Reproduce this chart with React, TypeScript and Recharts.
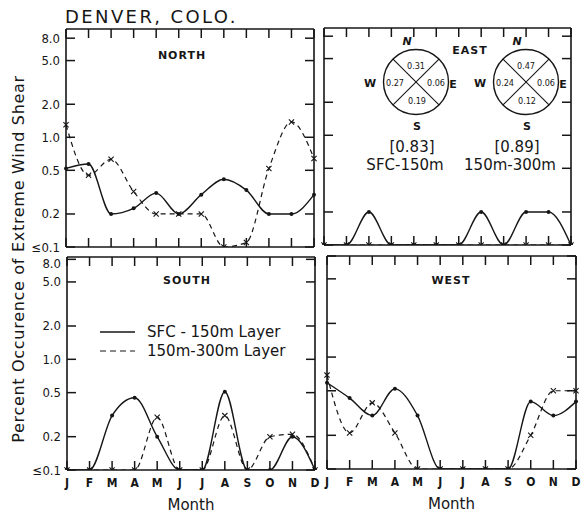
import React from "react";
import { LineChart, Line, XAxis, YAxis } from "recharts";

const INK = "#161616";
const SANS = "'DejaVu Sans', sans-serif";
const COND = "'DejaVu Sans Condensed', 'DejaVu Sans', sans-serif";

const MONTHS = ["J", "F", "M", "A", "M", "J", "J", "A", "S", "O", "N", "D"];
const Y_TICKS = [0.1, 0.2, 0.5, 1, 2, 5, 8];

// percent occurrence per month (0.1 means "<= 0.1")
const NORTH_SFC = [0.52, 0.57, 0.2, 0.225, 0.31, 0.2, 0.3, 0.415, 0.33, 0.2, 0.2, 0.3];
const NORTH_UPPER = [1.3, 0.45, 0.63, 0.32, 0.2, 0.2, 0.2, 0.1, 0.11, 0.52, 1.38, 0.64];
const EAST_SFC = [0.1, 0.1, 0.2, 0.1, 0.1, 0.1, 0.1, 0.2, 0.1, 0.2, 0.2, 0.1];
const EAST_UPPER = [0.1, 0.1, 0.1, 0.1, 0.1, 0.1, 0.1, 0.1, 0.1, 0.1, 0.1, 0.1];
const SOUTH_SFC = [0.1, 0.1, 0.31, 0.45, 0.2, 0.1, 0.1, 0.51, 0.1, 0.1, 0.2, 0.1];
const SOUTH_UPPER = [0.1, 0.1, 0.1, 0.1, 0.3, 0.1, 0.1, 0.31, 0.1, 0.2, 0.21, 0.1];
const WEST_SFC = [0.59, 0.43, 0.3, 0.52, 0.3, 0.1, 0.1, 0.1, 0.1, 0.4, 0.3, 0.4];
const WEST_UPPER = [0.69, 0.21, 0.39, 0.21, 0.1, 0.1, 0.1, 0.1, 0.1, 0.2, 0.5, 0.5];

// annual totals by direction for the wind roses in the EAST panel: N, W, E, S
const ROSE_SFC = ["0.31", "0.27", "0.06", "0.19"];
const ROSE_UPPER = ["0.47", "0.24", "0.06", "0.12"];
const ROSE_TOTALS = ["[0.83]", "[0.89]"];
const ROSE_LAYERS = ["SFC-150m", "150m-300m"];

interface PanelDef {
  name: string;
  sfc: number[];
  upper: number[];
  x: number; y: number; w: number; h: number;
  top: number;
  left: boolean;
  bottom: boolean;
  tx: number; ty: number;
}

const PANELS: PanelDef[] = [
  { name: "NORTH", sfc: NORTH_SFC, upper: NORTH_UPPER, x: 66, y: 29, w: 248, h: 218, top: 9.7, left: true, bottom: false, tx: 182, ty: 55 },
  { name: "EAST", sfc: EAST_SFC, upper: EAST_UPPER, x: 324, y: 28, w: 247, h: 217, top: 9.5, left: false, bottom: false, tx: 470, ty: 50 },
  { name: "SOUTH", sfc: SOUTH_SFC, upper: SOUTH_UPPER, x: 67, y: 257, w: 248, h: 213, top: 8.4, left: true, bottom: true, tx: 187, ty: 280 },
  { name: "WEST", sfc: WEST_SFC, upper: WEST_UPPER, x: 327, y: 256, w: 249, h: 213, top: 8.0, left: false, bottom: true, tx: 451, ty: 280 },
];

const TICK_LEN = 9;
const TICK_W = 1.5;
const fmtY = (v: number) => (v === 0.1 ? "\u22640.1" : v.toFixed(1));
const blank = () => "";

const Dot = (props: any) => {
  const { cx, cy, index } = props;
  if (cx == null || cy == null) return <g key={index} />;
  return <circle key={index} cx={cx} cy={cy} r={2} fill={INK} stroke="none" />;
};

const Cross = (props: any) => {
  const { cx, cy, index } = props;
  if (cx == null || cy == null) return <g key={index} />;
  const s = 2.6;
  return (
    <path key={index} d={`M${cx - s},${cy - s}L${cx + s},${cy + s}M${cx - s},${cy + s}L${cx + s},${cy - s}`}
      stroke={INK} strokeWidth={1.1} fill="none" strokeDasharray="none" />
  );
};

function Panel({ p }: { p: PanelDef }) {
  const L = p.left ? 50 : 10;
  const B = p.bottom ? 44 : 10;
  const R = 10;
  const T = 10;
  const data = MONTHS.map((m, i) => ({ m, sfc: p.sfc[i], upper: p.upper[i] }));
  const frame = { stroke: INK, strokeWidth: 1.6 };
  const tickLine = { stroke: INK, strokeWidth: TICK_W };
  const yDomain: [number, number] = [0.1, p.top];

  // y ticks point into the frame; labels only on the left-hand panels
  const leftTick = (tp: any) => {
    const v = tp.payload.value;
    const dy = p.bottom && v === 8 ? 4 : 0;
    return (
      <g>
        <line x1={L} x2={L + TICK_LEN} y1={tp.y} y2={tp.y} stroke={INK} strokeWidth={TICK_W} />
        {p.left && (
          <text x={L - 6} y={tp.y + dy} textAnchor="end" dominantBaseline="central" fill={INK}
            fontSize={13} fontFamily={COND}>{fmtY(v)}</text>
        )}
      </g>
    );
  };

  return (
    <div style={{ position: "absolute", left: p.x - L, top: p.y - T }}>
      <LineChart width={L + p.w + R} height={T + p.h + B} data={data}
        margin={{ top: T, right: R, left: 0, bottom: p.bottom ? 0 : B }}>
        <XAxis xAxisId="b" dataKey="m" mirror height={10} interval={0} tickSize={TICK_LEN}
          axisLine={frame} tickLine={tickLine} tickFormatter={blank} />
        <XAxis xAxisId="t" dataKey="m" orientation="top" mirror height={10} interval={0} tickSize={TICK_LEN}
          axisLine={frame} tickLine={tickLine} tickFormatter={blank} />
        {p.bottom && (
          <XAxis xAxisId="bl" dataKey="m" height={B} interval={0} tickLine={false} axisLine={false} tickMargin={2}
            tick={{ fill: INK, fontSize: 12, fontFamily: COND, fontWeight: "bold" }}
            label={{ value: "Month", position: "insideBottom", offset: 4, fill: INK, fontSize: 15, fontFamily: SANS }} />
        )}
        <YAxis yAxisId="l" scale="log" domain={yDomain} allowDataOverflow ticks={Y_TICKS} interval={0}
          width={L} tickSize={0} tickMargin={0} tickLine={false} axisLine={frame} tick={leftTick} />
        <YAxis yAxisId="r" orientation="right" mirror scale="log" domain={yDomain} allowDataOverflow ticks={Y_TICKS} interval={0}
          width={10} tickSize={TICK_LEN} axisLine={frame} tickLine={tickLine} tickFormatter={blank} />
        <Line xAxisId="b" yAxisId="l" type="monotone" dataKey="sfc" stroke={INK} strokeWidth={1.4}
          dot={Dot} activeDot={false} isAnimationActive={false} />
        <Line xAxisId="b" yAxisId="l" type="monotone" dataKey="upper" stroke={INK} strokeWidth={1.2}
          strokeDasharray="5 4" dot={Cross} activeDot={false} isAnimationActive={false} />
      </LineChart>
    </div>
  );
}

function Rose({ cx, cy, vals }: { cx: number; cy: number; vals: string[] }) {
  const r = 32.5;
  const d = r * Math.SQRT1_2;
  const num = { fontFamily: COND, fontSize: 9, fill: INK, textAnchor: "middle" as const, dominantBaseline: "central" as const };
  const dir = { fontFamily: SANS, fontSize: 11, fontWeight: "bold" as const, fill: INK, textAnchor: "middle" as const, dominantBaseline: "central" as const };
  return (
    <g>
      <circle cx={cx} cy={cy} r={r} fill="none" stroke={INK} strokeWidth={1.4} />
      <line x1={cx - d} y1={cy - d} x2={cx + d} y2={cy + d} stroke={INK} strokeWidth={1.1} />
      <line x1={cx - d} y1={cy + d} x2={cx + d} y2={cy - d} stroke={INK} strokeWidth={1.1} />
      <text x={cx} y={cy - 16} {...num}>{vals[0]}</text>
      <text x={cx - 21} y={cy + 1} {...num}>{vals[1]}</text>
      <text x={cx + 20} y={cy + 1} {...num}>{vals[2]}</text>
      <text x={cx + 1} y={cy + 19} {...num}>{vals[3]}</text>
      <text x={cx - 9} y={cy - 41} {...dir} fontStyle="italic">N</text>
      <text x={cx + 1} y={cy + 44} {...dir}>S</text>
      <text x={cx - 46} y={cy + 1} {...dir}>W</text>
      <text x={cx + 37} y={cy + 2} {...dir}>E</text>
    </g>
  );
}

function Overlay() {
  const big = { fontFamily: SANS, fontSize: 15, fill: INK, textAnchor: "middle" as const, dominantBaseline: "central" as const };
  return (
    <svg width={582} height={517} style={{ position: "absolute", left: 0, top: 0, pointerEvents: "none" }}>
      {PANELS.map((p) => (
        <text key={p.name} x={p.tx} y={p.ty} fontFamily={SANS} fontSize={11} fontWeight="bold" letterSpacing={1}
          fill={INK} textAnchor="middle" dominantBaseline="central">{p.name}</text>
      ))}
      <Rose cx={416} cy={82} vals={ROSE_SFC} />
      <Rose cx={526} cy={82} vals={ROSE_UPPER} />
      <text x={412} y={147} {...big}>{ROSE_TOTALS[0]}</text>
      <text x={517} y={147} {...big}>{ROSE_TOTALS[1]}</text>
      <text x={405} y={165} {...big}>{ROSE_LAYERS[0]}</text>
      <text x={510} y={165} {...big}>{ROSE_LAYERS[1]}</text>
      {/* legend in the SOUTH panel */}
      <line x1={100} y1={332} x2={135} y2={332} stroke={INK} strokeWidth={1.4} />
      <line x1={100} y1={351} x2={135} y2={351} stroke={INK} strokeWidth={1.2} strokeDasharray="6 4" />
      <text x={147} y={332} {...big} textAnchor="start">SFC - 150m Layer</text>
      <text x={147} y={351} {...big} textAnchor="start">150m-300m Layer</text>
    </svg>
  );
}

export default function App() {
  return (
    <div style={{ position: "absolute", left: 0, top: 0, width: 582, height: 517, background: "#fff" }}>
      <div style={{ position: "absolute", left: 65, top: 6, fontFamily: SANS, fontSize: 18, letterSpacing: 2.4, color: INK, lineHeight: "22px" }}>
        DENVER, COLO.
      </div>
      <div style={{
        position: "absolute", left: 18, top: 259, transform: "translate(-50%, -50%) rotate(-90deg)",
        whiteSpace: "nowrap", fontFamily: SANS, fontSize: 16, letterSpacing: 0.7, color: INK,
      }}>
        Percent Occurence of Extreme Wind Shear
      </div>
      {PANELS.map((p) => <Panel key={p.name} p={p} />)}
      <Overlay />
    </div>
  );
}
